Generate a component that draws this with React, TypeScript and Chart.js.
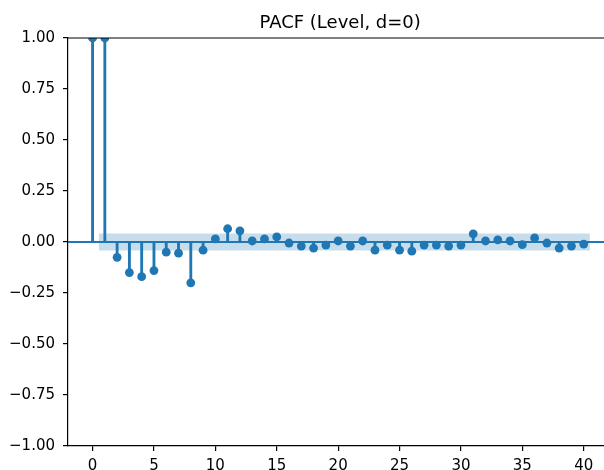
import React, { useEffect, useRef } from "react";
import { Chart, registerables } from "chart.js";

Chart.register(...registerables);

const TITLE = "PACF (Level, d=0)";
const LAGS = [0, 1, 2, 3, 4, 5, 6, 7, 8, 9, 10, 11, 12, 13, 14, 15, 16, 17, 18, 19, 20, 21, 22, 23, 24, 25, 26, 27, 28, 29, 30, 31, 32, 33, 34, 35, 36, 37, 38, 39, 40];
const PACF = [
  1.0, 1.0, -0.075, -0.15, -0.17, -0.14, -0.05, -0.055, -0.2, -0.04,
  0.015, 0.065, 0.055, 0.005, 0.015, 0.025, -0.005, -0.02, -0.03, -0.015,
  0.005, -0.02, 0.005, -0.04, -0.015, -0.04, -0.045, -0.015, -0.015, -0.02,
  -0.015, 0.04, 0.005, 0.01, 0.005, -0.013, 0.02, -0.005, -0.03, -0.02, -0.01,
];
const CONF_LAGS = [0.5, 40.5];
const CONF = 0.042;
const X_TICKS = [0, 5, 10, 15, 20, 25, 30, 35, 40];
const Y_TICKS = [-1, -0.75, -0.5, -0.25, 0, 0.25, 0.5, 0.75, 1];
const X_MIN = -2;
const X_MAX = 41.65;

const C0 = "#1f77b4";
const FONT = "DejaVu Sans";

const fmtY = (v: number) => (v < 0 ? "\u2212" + Math.abs(v).toFixed(2) : v.toFixed(2));

const framePlugin = {
  id: "frame",
  afterDraw(chart: any) {
    const { ctx, chartArea, scales } = chart;
    ctx.save();
    ctx.strokeStyle = "#000";
    ctx.lineWidth = 1.2;
    ctx.beginPath();
    ctx.moveTo(chartArea.left - 0.6, chartArea.top);
    ctx.lineTo(chart.width, chartArea.top);
    ctx.stroke();
    ctx.fillStyle = "#000";
    ctx.font = `18px "${FONT}"`;
    ctx.textAlign = "center";
    ctx.textBaseline = "alphabetic";
    const cx = scales.x.getPixelForValue((X_MIN + 42) / 2) + 2;
    ctx.fillText(TITLE, cx, 28);
    ctx.restore();
  },
};

export default function App() {
  const ref = useRef<HTMLCanvasElement | null>(null);
  useEffect(() => {
    if (!ref.current) return;
    const chart = new Chart(ref.current, {
      type: "scatter",
      data: {
        datasets: [
          {
            type: "scatter",
            data: LAGS.map((x, i) => ({ x, y: PACF[i] })),
            pointRadius: 4.4,
            pointBackgroundColor: C0,
            pointBorderWidth: 0,
            showLine: false,
            clip: 0,
          } as any,
          {
            type: "bar",
            data: LAGS.map((x, i) => ({ x, y: PACF[i] })),
            backgroundColor: C0,
            borderWidth: 0,
            barThickness: 2.2,
            clip: 0,
          } as any,
          {
            type: "line",
            data: [{ x: X_MIN, y: 0 }, { x: 42, y: 0 }],
            borderColor: C0,
            borderWidth: 2.2,
            pointRadius: 0,
            clip: 0,
          } as any,
          {
            type: "line",
            data: CONF_LAGS.map((x) => ({ x, y: CONF })),
            borderWidth: 0,
            pointRadius: 0,
            backgroundColor: "rgba(31,119,180,0.25)",
            fill: "+1",
          } as any,
          {
            type: "line",
            data: CONF_LAGS.map((x) => ({ x, y: -CONF })),
            borderWidth: 0,
            pointRadius: 0,
            fill: false,
          } as any,
        ],
      },
      options: {
        animation: false,
        responsive: false,
        devicePixelRatio: 1,
        layout: { autoPadding: false, padding: { top: 38, left: 0, right: 0, bottom: 0 } },
        plugins: { legend: { display: false }, tooltip: { enabled: false }, title: { display: false } },
        scales: {
          x: {
            type: "linear",
            min: X_MIN,
            max: X_MAX,
            offset: false,
            afterBuildTicks: (s: any) => {
              s.ticks = X_TICKS.map((v) => ({ value: v }));
            },
            afterFit: (s: any) => {
              s.height = 24;
              s.paddingRight = 0;
              s.paddingLeft = 0;
            },
            grid: { offset: false, drawOnChartArea: false, drawTicks: true, tickLength: 5, color: "#000", lineWidth: 1.2 },
            border: { display: true, color: "#000", width: 1.2 },
            ticks: { color: "#000", font: { family: FONT, size: 15 }, padding: 6, maxRotation: 0, autoSkip: false },
          },
          y: {
            type: "linear",
            min: -1,
            max: 1,
            afterBuildTicks: (s: any) => {
              s.ticks = Y_TICKS.map((v) => ({ value: v }));
            },
            afterFit: (s: any) => {
              s.width = 68;
              s.paddingTop = 0;
              s.paddingBottom = 0;
            },
            grid: { drawOnChartArea: false, drawTicks: true, tickLength: 5, color: "#000", lineWidth: 1.2 },
            border: { display: true, color: "#000", width: 1.2 },
            ticks: {
              color: "#000",
              font: { family: FONT, size: 15 },
              padding: 8,
              callback: (v: any) => fmtY(Number(v)),
            },
          },
        },
      } as any,
      plugins: [framePlugin],
    });
    return () => chart.destroy();
  }, []);
  return (
    <div style={{ position: "fixed", left: 0, top: 0, width: 604, height: 470, background: "#fff" }}>
      <canvas ref={ref} width={604} height={470} style={{ width: 604, height: 470, display: "block" }} />
    </div>
  );
}
